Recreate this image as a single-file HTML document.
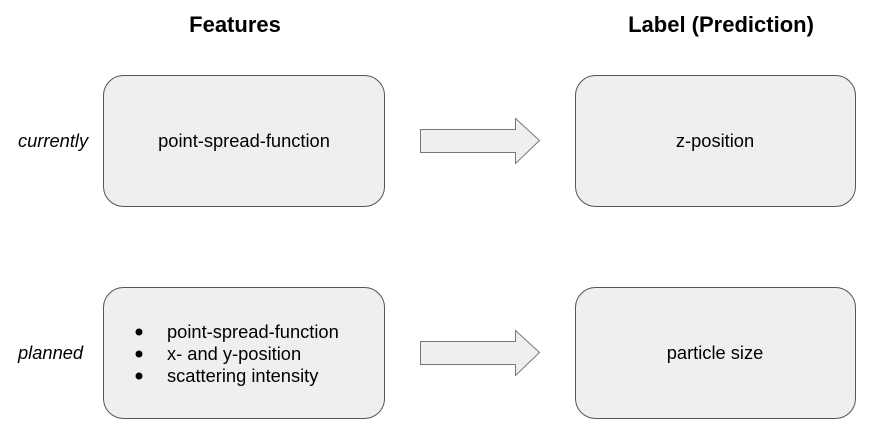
<!DOCTYPE html><html><head><style>body{margin:0;background:#fff}</style></head><body>
<svg width="887" height="438" xmlns="http://www.w3.org/2000/svg" font-family="Liberation Sans, sans-serif">
<g fill="#efefef" stroke="#555" stroke-width="1">
<rect x="103.5" y="75.5" width="281" height="131" rx="20"/>
<rect x="575.5" y="75.5" width="280" height="131" rx="20"/>
<rect x="103.5" y="287.5" width="281" height="131" rx="20"/>
<rect x="575.5" y="287.5" width="280" height="131" rx="20"/>
<polygon points="420.5,129.5 515.5,129.5 515.5,118.5 539.5,140.5 515.5,163.5 515.5,152.5 420.5,152.5" stroke="#777"/>
<polygon points="420.5,341.5 515.5,341.5 515.5,330.5 539.5,352.5 515.5,375.5 515.5,364.5 420.5,364.5" stroke="#777"/>
</g>
<g font-weight="bold" font-size="22" text-anchor="middle" fill="#000">
<text x="235" y="32">Features</text>
<text x="721" y="32">Label (Prediction)</text>
</g>
<g font-size="18.3" fill="#000">
<text x="18" y="147" font-style="italic">currently</text>
<text x="18" y="359" font-style="italic">planned</text>
<text x="244" y="147" text-anchor="middle">point-spread-function</text>
<text x="715" y="147" text-anchor="middle">z-position</text>
<text x="715" y="359" text-anchor="middle">particle size</text>
<text x="167" y="338">point-spread-function</text>
<text x="167" y="360">x- and y-position</text>
<text x="167" y="382">scattering intensity</text>
</g>
<g fill="#000"><circle cx="139" cy="332" r="3.5"/><circle cx="139" cy="354" r="3.5"/><circle cx="139" cy="376" r="3.5"/></g>
</svg></body></html>
